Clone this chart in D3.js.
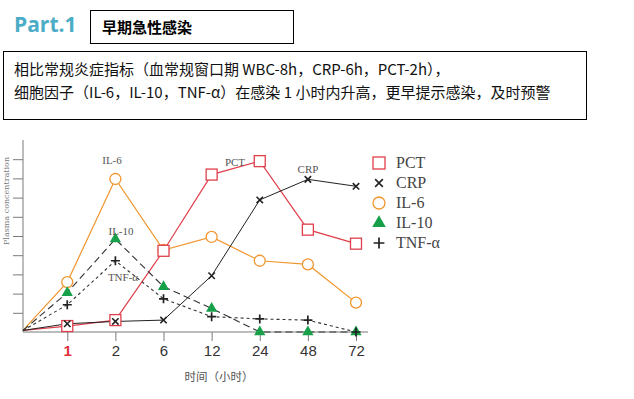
<!DOCTYPE html>
<html>
<head>
<meta charset="utf-8">
<script src="https://cdn.jsdelivr.net/npm/d3@7"></script>
<style>
  body { margin: 0; background: #fff; }
  svg { display: block; }
</style>
</head>
<body>
<svg id="chart" width="634" height="399"></svg>
<script>
// hours after infection (tick labels), origin is hour 0
var hours = ["1", "2", "6", "12", "24", "48", "72"];
var seriesNames = ["PCT", "CRP", "IL-6", "IL-10", "TNF-α"];

// relative plasma concentration, first value = origin (hour 0)
var pct   = [0.08, 0.31, 0.62, 4.23, 8.2, 8.9, 5.33, 4.6];
var crp   = [0.08, 0.43, 0.55, 0.62, 2.93, 6.88, 7.95, 7.59];
var il6   = [0.08, 2.6, 7.97, 4.27, 4.95, 3.71, 3.52, 1.53];
var il10  = [0.08, 2.05, 4.84, 2.36, 1.23, 0, 0, 0];
var tnf   = [0.08, 1.42, 3.71, 1.73, 0.8, 0.68, 0.62, 0];

var svg = d3.select("#chart");

// header
svg.append("text")
  .attr("x", 14).attr("y", 32)
  .style("font-family", "'Open Sans', 'DejaVu Sans', sans-serif")
  .style("font-weight", "bold")
  .style("font-size", "21px")
  .style("fill", "#4bacc6")
  .text("Part.1");

svg.append("rect")
  .attr("x", 90.5).attr("y", 10.5).attr("width", 203).attr("height", 33)
  .style("fill", "none").style("stroke", "#000").style("stroke-width", 1);

svg.append("text")
  .attr("x", 102).attr("y", 33)
  .style("font-family", "'Noto Sans CJK SC', sans-serif")
  .style("font-weight", "bold")
  .style("font-size", "15px")
  .text("早期急性感染");

svg.append("rect")
  .attr("x", 3.5).attr("y", 51.5).attr("width", 583).attr("height", 68)
  .style("fill", "none").style("stroke", "#000").style("stroke-width", 1);

var desc = svg.append("g")
  .style("font-family", "'Noto Sans CJK SC', sans-serif")
  .style("font-size", "15px")
  .style("fill", "#111");
desc.append("text").attr("x", 14).attr("y", 75)
  .text("相比常规炎症指标（血常规窗口期 WBC-8h，CRP-6h，PCT-2h），");
desc.append("text").attr("x", 14).attr("y", 98)
  .text("细胞因子（IL-6，IL-10，TNF-α）在感染 1 小时内升高，更早提示感染，及时预警");

// chart
var x = d3.scaleLinear().domain([-0.92, 6]).range([23, 356]);
var y = d3.scaleLinear().domain([0, 10]).range([332, 140]);

function xPos(i) { return i === 0 ? x(-0.92) : x(i - 1); }

var axisColor = "#7a7a7a";

// y axis: line with ticks on the left, no labels
var yAxis = d3.axisLeft(y).tickValues(d3.range(1, 10)).tickSize(10).tickFormat("");
var gy = svg.append("g").attr("transform", "translate(23,0)").call(yAxis);
gy.select(".domain").attr("d", "M0,140V332").style("stroke", axisColor);
gy.selectAll(".tick line").style("stroke", axisColor);

// x axis
var xAxis = d3.axisBottom(x).tickValues(d3.range(0, 7)).tickSize(9)
  .tickFormat(function(d) { return hours[d]; });
var gx = svg.append("g").attr("transform", "translate(0,332)").call(xAxis);
gx.select(".domain").attr("d", "M23,0H368").style("stroke", axisColor);
gx.selectAll(".tick line").style("stroke", axisColor);
gx.selectAll(".tick text")
  .attr("y", 13)
  .style("font-family", "'Liberation Sans', Arial, sans-serif")
  .style("font-size", "15px")
  .style("fill", function(d) { return d === 0 ? "#e0303a" : "#333"; })
  .style("font-weight", function(d) { return d === 0 ? "bold" : "normal"; });

svg.append("text")
  .attr("x", 219).attr("y", 381)
  .attr("text-anchor", "middle")
  .style("font-family", "'Noto Sans CJK SC', sans-serif")
  .style("font-size", "11.5px")
  .style("fill", "#555")
  .text("时间（小时）");

svg.append("text")
  .attr("transform", "translate(9,201) rotate(-90)")
  .attr("text-anchor", "middle")
  .style("font-family", "'DejaVu Serif', serif")
  .style("font-size", "8px")
  .style("fill", "#777")
  .text("Plasma concentration");

var line = d3.line()
  .x(function(d, i) { return xPos(i); })
  .y(function(d) { return y(d); });

var series = [
  { name: "IL-6", values: il6, color: "#f0962e", dash: null, width: 1.2 },
  { name: "PCT", values: pct, color: "#e0404c", dash: null, width: 1.2 },
  { name: "CRP", values: crp, color: "#222", dash: null, width: 1 },
  { name: "IL-10", values: il10, color: "#333", dash: "7,4", width: 1.1 },
  { name: "TNF-α", values: tnf, color: "#333", dash: "3,3", width: 1.1 }
];

series.forEach(function(s) {
  svg.append("path")
    .datum(s.values)
    .attr("d", line)
    .style("fill", "none")
    .style("stroke", s.color)
    .style("stroke-width", s.width)
    .style("stroke-dasharray", s.dash);
});

function drawMarker(g, kind, size) {
  if (kind === "PCT") {
    g.append("rect").attr("x", -size / 2).attr("y", -size / 2)
      .attr("width", size).attr("height", size)
      .style("fill", "#fff").style("stroke", "#e0404c").style("stroke-width", 1.3);
  } else if (kind === "IL-6") {
    g.append("circle").attr("r", size / 2)
      .style("fill", "#fff").style("stroke", "#f0962e").style("stroke-width", 1.3);
  } else if (kind === "IL-10") {
    g.append("path").attr("d", d3.symbol(d3.symbolTriangle, size * size * 0.55))
      .style("fill", "#16a04a");
  } else if (kind === "CRP") {
    var h = size * 0.32;
    g.append("path").attr("d", "M" + -h + "," + -h + "L" + h + "," + h + "M" + -h + "," + h + "L" + h + "," + -h)
      .style("stroke", "#222").style("stroke-width", 1.6);
  } else {
    var p = size * 0.45;
    g.append("path").attr("d", "M" + -p + ",0H" + p + "M0," + -p + "V" + p)
      .style("stroke", "#222").style("stroke-width", 1.7);
  }
}

// markers: draw lower layers first
["IL-6", "PCT", "CRP", "IL-10", "TNF-α"].forEach(function(name) {
  var s = series.filter(function(d) { return d.name === name; })[0];
  s.values.forEach(function(v, i) {
    if (i === 0) return;
    var g = svg.append("g").attr("transform", "translate(" + xPos(i) + "," + y(v) + ")");
    drawMarker(g, name, name === "PCT" ? 11 : name === "IL-6" ? 11 : 10);
  });
});

// inline labels
var inline = [
  { t: "IL-6", x: 112, y: 164 },
  { t: "IL-10", x: 121, y: 235 },
  { t: "TNF-α", x: 123, y: 281 },
  { t: "PCT", x: 235, y: 166 },
  { t: "CRP", x: 308, y: 173 }
];
svg.selectAll(".inlabel").data(inline).enter().append("text")
  .attr("class", "inlabel")
  .attr("x", function(d) { return d.x; })
  .attr("y", function(d) { return d.y; })
  .attr("text-anchor", "middle")
  .style("font-family", "'Liberation Serif', 'DejaVu Serif', serif")
  .style("font-size", "11px")
  .style("fill", "#555")
  .text(function(d) { return d.t; });

// legend
var legend = svg.append("g");
seriesNames.forEach(function(name, i) {
  var ly = 163 + i * 20;
  var g = legend.append("g").attr("transform", "translate(379," + ly + ")");
  drawMarker(g, name, 12);
  legend.append("text")
    .attr("x", 396).attr("y", ly + 5)
    .style("font-family", "'Liberation Serif', 'DejaVu Serif', serif")
    .style("font-size", "16px")
    .style("fill", "#444")
    .text(name);
});
</script>
</body>
</html>
